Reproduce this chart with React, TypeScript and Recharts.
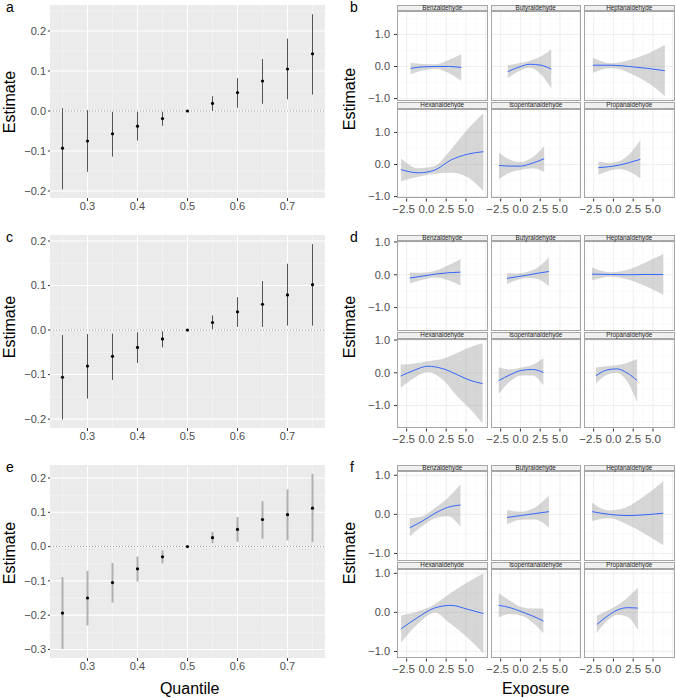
import { ComposedChart, Line, Area, XAxis, YAxis, CartesianGrid, ReferenceLine } from 'recharts';

// ---- left column: quantile estimates (a, c, e) ----
const quantiles = [0.25, 0.3, 0.35, 0.4, 0.45, 0.5, 0.55, 0.6, 0.65, 0.7, 0.75];
const quantileTicks = [0.3, 0.4, 0.5, 0.6, 0.7];
const quantileMinor = [0.25, 0.35, 0.45, 0.55, 0.65, 0.75];

const aEstimate = [-0.093, -0.075, -0.057, -0.038, -0.019, 0, 0.019, 0.046, 0.075, 0.105, 0.143];
const aLower = [-0.196, -0.152, -0.114, -0.074, -0.037, 0, 0, 0.008, 0.018, 0.029, 0.041];
const aUpper = [0.007, 0.002, -0.002, -0.002, -0.002, 0, 0.037, 0.082, 0.13, 0.181, 0.242];

const cEstimate = [-0.106, -0.081, -0.059, -0.039, -0.02, 0, 0.017, 0.041, 0.058, 0.079, 0.102];
const cLower = [-0.201, -0.154, -0.112, -0.074, -0.039, 0, 0.002, 0.007, 0.007, 0.01, 0.01];
const cUpper = [-0.011, -0.009, -0.008, -0.005, -0.003, 0, 0.033, 0.074, 0.11, 0.149, 0.193];

const eEstimate = [-0.194, -0.15, -0.105, -0.065, -0.03, 0, 0.026, 0.05, 0.079, 0.093, 0.112];
const eLower = [-0.299, -0.23, -0.163, -0.102, -0.049, 0, 0.01, 0.014, 0.023, 0.018, 0.013];
const eUpper = [-0.089, -0.071, -0.048, -0.029, -0.011, 0, 0.043, 0.086, 0.133, 0.167, 0.212];

// ---- right column: exposure-response smooths (b, d, f), rows of [x, est, lower, upper] ----
const facetNames = ['Benzaldehyde', 'Butyraldehyde', 'Heptanaldehyde', 'Hexanaldehyde', 'Isopentanaldehyde', 'Propanaldehyde'];
const exposureTicks = [-2.5, 0, 2.5, 5];
const exposureGrid = [-2.5, 0, 2.5, 5, 7.5];
const exposureMinor = [-1.25, 1.25, 3.75, 6.25];
const estimateTicks = [-1, 0, 1];

const bBenzaldehyde = [[-2.0, -0.06, -0.25, 0.12], [-0.4, -0.01, -0.12, 0.08], [1.2, 0.0, -0.08, 0.07], [2.8, 0.0, -0.2, 0.2], [4.4, -0.03, -0.45, 0.38]];
const bButyraldehyde = [[-1.6, -0.16, -0.36, 0.04], [-0.2, -0.02, -0.15, 0.1], [1.2, 0.07, -0.04, 0.18], [2.6, 0.04, -0.25, 0.32], [3.9, -0.08, -0.68, 0.54]];
const bHeptanaldehyde = [[-2.6, 0.04, -0.2, 0.27], [-0.3, 0.04, -0.05, 0.1], [2.0, 0.0, -0.2, 0.2], [4.3, -0.06, -0.5, 0.4], [6.5, -0.13, -0.92, 0.67]];
const bHexanaldehyde = [[-3.2, -0.16, -0.52, 0.19], [-1.0, -0.26, -0.38, -0.12], [1.0, -0.18, -0.29, -0.05], [3.1, 0.14, -0.26, 0.47], [5.2, 0.32, -0.4, 1.1], [7.2, 0.4, -0.83, 1.6]];
const bIsopentanaldehyde = [[-2.7, -0.03, -0.46, 0.37], [-1.3, -0.05, -0.25, 0.15], [0.0, -0.05, -0.17, 0.08], [1.5, 0.04, -0.12, 0.22], [3.0, 0.18, -0.23, 0.58]];
const bPropanaldehyde = [[-1.9, -0.1, -0.32, 0.1], [-0.6, -0.07, -0.2, 0.05], [0.7, -0.02, -0.14, 0.1], [2.0, 0.06, -0.22, 0.32], [3.4, 0.16, -0.44, 0.76]];

const dBenzaldehyde = [[-2.1, -0.1, -0.27, 0.07], [-0.5, -0.04, -0.15, 0.06], [1.1, 0.02, -0.08, 0.12], [2.7, 0.06, -0.16, 0.28], [4.3, 0.08, -0.33, 0.48]];
const dButyraldehyde = [[-1.7, -0.11, -0.28, 0.05], [-0.4, -0.06, -0.16, 0.04], [0.9, -0.01, -0.1, 0.09], [2.25, 0.05, -0.14, 0.24], [3.6, 0.1, -0.35, 0.53]];
const dHeptanaldehyde = [[-2.7, 0.02, -0.17, 0.22], [-0.4, 0.01, -0.06, 0.08], [1.9, 0.0, -0.15, 0.16], [4.1, 0.01, -0.35, 0.38], [6.3, 0.01, -0.61, 0.63]];
const dHexanaldehyde = [[-3.25, -0.1, -0.46, 0.25], [-1.5, 0.08, -0.15, 0.28], [0.15, 0.2, 0.02, 0.35], [2.0, 0.13, -0.2, 0.42], [4.0, -0.07, -0.75, 0.62], [5.5, -0.23, -1.1, 0.78], [7.1, -0.33, -1.55, 0.9]];
const dIsopentanaldehyde = [[-2.75, -0.24, -0.64, 0.17], [-1.3, -0.06, -0.26, 0.1], [0.1, 0.07, -0.08, 0.16], [1.5, 0.1, -0.08, 0.24], [2.9, 0.01, -0.38, 0.44]];
const dPropanaldehyde = [[-2.2, -0.09, -0.33, 0.16], [-0.9, 0.08, -0.07, 0.2], [0.4, 0.12, 0.0, 0.23], [1.7, 0.0, -0.25, 0.3], [3.0, -0.24, -0.9, 0.42]];

const fBenzaldehyde = [[-2.1, -0.34, -0.56, -0.1], [-0.5, -0.17, -0.3, -0.05], [1.1, 0.03, -0.1, 0.17], [2.7, 0.18, -0.05, 0.42], [4.3, 0.24, -0.32, 0.77]];
const fButyraldehyde = [[-1.7, -0.08, -0.26, 0.11], [0.0, -0.03, -0.14, 0.07], [1.8, 0.02, -0.13, 0.17], [3.6, 0.07, -0.34, 0.48]];
const fHeptanaldehyde = [[-2.7, 0.07, -0.17, 0.3], [-0.5, 0.0, -0.1, 0.1], [1.7, -0.03, -0.25, 0.19], [4.0, -0.01, -0.5, 0.48], [6.3, 0.03, -0.79, 0.85]];
const fHexanaldehyde = [[-3.2, -0.42, -0.77, -0.08], [-1.1, -0.13, -0.3, 0.02], [1.0, 0.11, 0.0, 0.2], [3.1, 0.18, -0.3, 0.5], [5.2, 0.08, -0.65, 0.77], [7.2, -0.03, -1.05, 1.0]];
const fIsopentanaldehyde = [[-2.75, 0.18, -0.13, 0.49], [-1.3, 0.12, -0.04, 0.3], [0.1, 0.02, -0.08, 0.14], [1.5, -0.09, -0.25, 0.1], [2.9, -0.22, -0.53, 0.1]];
const fPropanaldehyde = [[-2.1, -0.31, -0.52, -0.08], [-0.8, -0.1, -0.22, 0.04], [0.5, 0.06, -0.06, 0.18], [1.8, 0.12, -0.12, 0.38], [3.1, 0.11, -0.46, 0.63]];

const FONT = '"Liberation Sans", Arial, Helvetica, sans-serif';
const TICK_FILL = '#4d4d4d';

const fmt = (v: number) => (v < 0 ? '\u2212' : '') + Math.abs(v).toFixed(1);

// negative labels sit a little left of their tick, as in the original
function ExposureTick({ x, y, payload }: any) {
  const v = payload.value as number;
  return (
    <text x={x - (v < 0 ? 3 : 0)} y={y} dy="0.71em" textAnchor="middle" fill={TICK_FILL} fontSize={11.5} fontFamily={FONT}>
      {fmt(v)}
    </text>
  );
}

interface QuantilePanelProps {
  top: number;
  letter: string;
  est: number[];
  lower: number[];
  upper: number[];
  yDomain: [number, number];
  yTicks: number[];
  yMinor: number[];
  barColor: string;
  barWidth: number;
}

function QuantilePanel({ top, letter, est, lower, upper, yDomain, yTicks, yMinor, barColor, barWidth }: QuantilePanelProps) {
  const data = quantiles.map((q, i) => ({ q, est: est[i], lo: lower[i], hi: upper[i] }));
  return (
    <>
      <div style={{ position: 'absolute', left: 0, top: top + 5 }}>
        <ComposedChart width={325} height={213} data={data} margin={{ top: 0, right: 0, bottom: 0, left: 0 }}>
          <CartesianGrid fill="#ebebeb" stroke="#f7f7f7" strokeWidth={0.6} horizontalValues={yMinor} verticalValues={quantileMinor} />
          <CartesianGrid stroke="#ffffff" strokeWidth={1.1} horizontalValues={yTicks} verticalValues={quantileTicks} />
          <XAxis
            type="number"
            dataKey="q"
            domain={[0.225, 0.775]}
            ticks={quantileTicks}
            interval={0}
            allowDataOverflow
            height={20}
            axisLine={false}
            tickSize={3}
            tickMargin={1}
            tickLine={{ stroke: '#333' }}
            tick={{ fill: TICK_FILL, fontSize: 11, fontFamily: FONT }}
            tickFormatter={fmt}
          />
          <YAxis
            type="number"
            domain={yDomain}
            ticks={yTicks}
            interval={0}
            allowDataOverflow
            width={50}
            axisLine={false}
            tickSize={2}
            tickMargin={2}
            tickLine={{ stroke: '#333' }}
            tick={{ fill: TICK_FILL, fontSize: 11, fontFamily: FONT }}
            tickFormatter={fmt}
          />
          <ReferenceLine y={0} stroke="#9a9a9a" strokeDasharray="1 2" />
          {data.filter((d) => d.hi > d.lo).map((d, i) => (
            <Line
              key={`bar-${i}`}
              type="linear"
              data={[{ q: d.q, v: d.lo }, { q: d.q, v: d.hi }]}
              dataKey="v"
              stroke={barColor}
              strokeWidth={barWidth}
              dot={false}
              isAnimationActive={false}
            />
          ))}
          <Line dataKey="est" stroke="none" dot={{ r: 1.6, fill: '#000', stroke: 'none' }} isAnimationActive={false} />
        </ComposedChart>
      </div>
      <PanelLetter x={6} top={top} letter={letter} />
    </>
  );
}

function PanelLetter({ x, top, letter }: { x: number; top: number; letter: string }) {
  return (
    <div style={{ position: 'absolute', left: x, top, fontSize: 14, fontFamily: FONT, color: '#000', lineHeight: '14px' }}>
      {letter}
    </div>
  );
}

function AxisTitle({ cx, cy, text, vertical }: { cx: number; cy: number; text: string; vertical?: boolean }) {
  return (
    <div
      style={{
        position: 'absolute',
        left: cx,
        top: cy,
        transform: `translate(-50%, -50%)${vertical ? ' rotate(-90deg)' : ''}`,
        fontSize: 16,
        fontFamily: FONT,
        color: '#000',
        whiteSpace: 'nowrap',
        lineHeight: '18px',
      }}
    >
      {text}
    </div>
  );
}

const colLefts = [397, 490.5, 584];
const FACET_W = 90.5;
const FACET_H = 89.5;
const STRIP_H = 6.5;
const PAD_X = 14;
const PAD_Y = 8;

interface FacetProps {
  left: number;
  top: number;
  name: string;
  rows: number[][];
  yDomain: [number, number];
  yMinor: number[];
  showY: boolean;
  showX: boolean;
}

function Facet({ left, top, name, rows, yDomain, yMinor, showY, showX }: FacetProps) {
  const data = rows.map(([x, est, lo, hi]) => ({ x, est, band: [lo, hi] }));
  const yw = showY ? 45 : 0;
  const xh = showX ? 20 : 0;
  const padBottom = showX ? 0 : PAD_Y;
  return (
    <>
      <div style={{ position: 'absolute', left: left - yw - PAD_X, top: top - PAD_Y }}>
        <ComposedChart
          width={FACET_W + yw + PAD_X * 2}
          height={FACET_H + xh + PAD_Y + padBottom}
          data={data}
          margin={{ top: PAD_Y, right: PAD_X, bottom: padBottom, left: PAD_X }}
        >
          <CartesianGrid fill="#ffffff" stroke="#f4f4f4" strokeWidth={0.5} horizontalValues={yMinor} verticalValues={exposureMinor} />
          <CartesianGrid stroke="#e6e6e6" strokeWidth={0.7} horizontalValues={estimateTicks} verticalValues={exposureGrid} />
          <XAxis
            type="number"
            dataKey="x"
            domain={[-3.72, 7.72]}
            ticks={exposureTicks}
            interval={0}
            allowDataOverflow
            hide={!showX}
            height={20}
            axisLine={false}
            tickSize={3}
            tickMargin={3}
            tickLine={{ stroke: '#333' }}
            tick={<ExposureTick />}
          />
          <YAxis
            type="number"
            domain={yDomain}
            ticks={estimateTicks}
            interval={0}
            allowDataOverflow
            hide={!showY}
            width={45}
            axisLine={false}
            tickSize={3}
            tickMargin={4}
            tickLine={{ stroke: '#333' }}
            tick={{ fill: TICK_FILL, fontSize: 11, fontFamily: FONT }}
            tickFormatter={fmt}
          />
          <Area type="monotone" dataKey="band" fill="#999999" fillOpacity={0.4} stroke="none" isAnimationActive={false} />
          <Line type="monotone" dataKey="est" stroke="#3366ff" strokeWidth={1} dot={false} isAnimationActive={false} />
        </ComposedChart>
      </div>
      <div
        style={{
          position: 'absolute',
          left,
          top,
          width: FACET_W,
          height: FACET_H,
          border: '1px solid #a6a6a6',
          boxSizing: 'border-box',
          pointerEvents: 'none',
        }}
      />
      <div
        style={{
          position: 'absolute',
          left,
          top: top - STRIP_H,
          width: FACET_W,
          height: STRIP_H,
          background: '#f0f0f0',
          border: '1px solid #a6a6a6',
          boxSizing: 'border-box',
          fontSize: 6.3,
          lineHeight: `${STRIP_H - 2}px`,
          textAlign: 'center',
          fontFamily: FONT,
          color: '#1a1a1a',
          whiteSpace: 'nowrap',
        }}
      >
        {name}
      </div>
    </>
  );
}

interface FacetGridProps {
  top: number;
  letter: string;
  facets: number[][][];
  yDomain: [number, number];
  yMinor: number[];
}

function FacetGrid({ top, letter, facets, yDomain, yMinor }: FacetGridProps) {
  const rowTops = [top + 11, top + 108.5];
  return (
    <>
      {facets.map((rows, i) => {
        const r = Math.floor(i / 3);
        const c = i % 3;
        return (
          <Facet
            key={facetNames[i]}
            left={colLefts[c]}
            top={rowTops[r]}
            name={facetNames[i]}
            rows={rows}
            yDomain={yDomain}
            yMinor={yMinor}
            showY={c === 0}
            showX={r === 1}
          />
        );
      })}
      <PanelLetter x={350} top={top} letter={letter} />
    </>
  );
}

export default function App() {
  return (
    <div style={{ position: 'absolute', left: 0, top: 0, width: 676, height: 698, background: '#fff', overflow: 'hidden' }}>
      <QuantilePanel top={0} letter="a" est={aEstimate} lower={aLower} upper={aUpper}
        yDomain={[-0.2175, 0.265]} yTicks={[-0.2, -0.1, 0, 0.1, 0.2]} yMinor={[-0.15, -0.05, 0.05, 0.15, 0.25]}
        barColor="#555555" barWidth={1} />
      <QuantilePanel top={230} letter="c" est={cEstimate} lower={cLower} upper={cUpper}
        yDomain={[-0.22, 0.2135]} yTicks={[-0.2, -0.1, 0, 0.1, 0.2]} yMinor={[-0.15, -0.05, 0.05, 0.15]}
        barColor="#555555" barWidth={1} />
      <QuantilePanel top={460} letter="e" est={eEstimate} lower={eLower} upper={eUpper}
        yDomain={[-0.325, 0.238]} yTicks={[-0.3, -0.2, -0.1, 0, 0.1, 0.2]} yMinor={[-0.25, -0.15, -0.05, 0.05, 0.15]}
        barColor="#b0b0b0" barWidth={2} />

      <FacetGrid top={0} letter="b"
        facets={[bBenzaldehyde, bButyraldehyde, bHeptanaldehyde, bHexanaldehyde, bIsopentanaldehyde, bPropanaldehyde]}
        yDomain={[-1.06, 1.73]} yMinor={[-0.5, 0.5, 1.5]} />
      <FacetGrid top={230} letter="d"
        facets={[dBenzaldehyde, dButyraldehyde, dHeptanaldehyde, dHexanaldehyde, dIsopentanaldehyde, dPropanaldehyde]}
        yDomain={[-1.7, 1.03]} yMinor={[-1.5, -0.5, 0.5]} />
      <FacetGrid top={460} letter="f"
        facets={[fBenzaldehyde, fButyraldehyde, fHeptanaldehyde, fHexanaldehyde, fIsopentanaldehyde, fPropanaldehyde]}
        yDomain={[-1.18, 1.11]} yMinor={[-0.5, 0.5]} />

      <AxisTitle cx={9.5} cy={101.7} text="Estimate" vertical />
      <AxisTitle cx={9.5} cy={326.7} text="Estimate" vertical />
      <AxisTitle cx={9.5} cy={553.3} text="Estimate" vertical />
      <AxisTitle cx={349.5} cy={99} text="Estimate" vertical />
      <AxisTitle cx={349.5} cy={326.7} text="Estimate" vertical />
      <AxisTitle cx={349.5} cy={553.3} text="Estimate" vertical />
      <AxisTitle cx={189.7} cy={689} text="Quantile" />
      <AxisTitle cx={535.7} cy={689} text="Exposure" />
    </div>
  );
}
